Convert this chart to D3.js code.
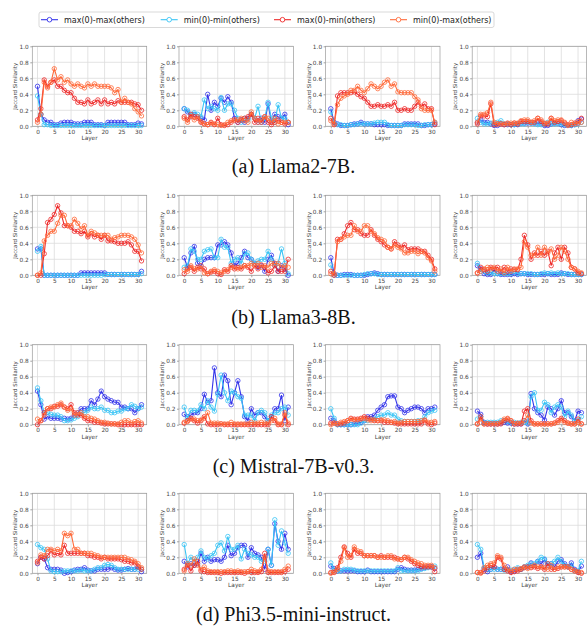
<!DOCTYPE html>
<html>
<head>
<meta charset="utf-8">
<script src="https://cdn.jsdelivr.net/npm/d3@7"></script>
<style>
  body { margin: 0; background: #fff; }
  svg text { font-family: "DejaVu Sans", sans-serif; }
  .caption { font-family: "Liberation Serif", "Times New Roman", serif !important; }
</style>
</head>
<body>
<svg id="chart" width="587" height="631"></svg>
<script>
// series order in every panel: max(0)-max(others), min(0)-min(others), max(0)-min(others), min(0)-max(others)
const seriesNames = ["max(0)-max(others)", "min(0)-min(others)", "max(0)-min(others)", "min(0)-max(others)"];
const seriesColors = ["#3434ea", "#38c4f5", "#ee2a2a", "#ff6a3a"];
const captions = ["(a) Llama2-7B.", "(b) Llama3-8B.", "(c) Mistral-7B-v0.3.", "(d) Phi3.5-mini-instruct."];
const layers = d3.range(32);
const xTicks = [0, 5, 10, 15, 20, 25, 30];
const yTicks = [0, 0.2, 0.4, 0.6, 0.8, 1.0];

// (a) Llama2-7B
const llama2_1 = [
  [0.5,0.15,0.08,0.05,0.05,0.02,0.02,0.04,0.05,0.05,0.05,0.03,0.03,0.03,0.05,0.05,0.05,0.02,0.02,0.02,0.01,0.05,0.05,0.05,0.05,0.05,0.05,0.02,0.02,0.02,0.04,0.03],
  [0.38,0.15,0.02,0.02,0.01,0.01,0.01,0.01,0.01,0.01,0.01,0.01,0.01,0.01,0.01,0.01,0.01,0.01,0.01,0.01,0.01,0.01,0.01,0.01,0.01,0.01,0.01,0.01,0.01,0.01,0.01,0.01],
  [0.08,0.22,0.58,0.5,0.55,0.58,0.5,0.5,0.45,0.42,0.42,0.35,0.3,0.3,0.28,0.33,0.28,0.3,0.33,0.28,0.33,0.28,0.3,0.28,0.32,0.3,0.3,0.3,0.3,0.28,0.27,0.2],
  [0.05,0.15,0.55,0.48,0.55,0.72,0.58,0.62,0.55,0.58,0.53,0.5,0.53,0.5,0.48,0.53,0.5,0.53,0.5,0.5,0.5,0.5,0.48,0.42,0.46,0.3,0.35,0.3,0.28,0.22,0.18,0.13]
];
const llama2_2 = [
  [0.22,0.18,0.12,0.15,0.12,0.1,0.08,0.4,0.2,0.3,0.25,0.35,0.3,0.37,0.3,0.1,0.05,0.08,0.05,0.1,0.15,0.1,0.05,0.1,0.05,0.28,0.05,0.15,0.12,0.1,0.15,0.02],
  [0.22,0.2,0.15,0.17,0.15,0.12,0.33,0.22,0.25,0.22,0.2,0.36,0.2,0.28,0.28,0.2,0.1,0.05,0.1,0.08,0.15,0.1,0.25,0.05,0.1,0.3,0.1,0.05,0.27,0.1,0.1,0.05],
  [0.12,0.08,0.15,0.12,0.1,0.05,0.03,0.02,0.05,0.02,0.1,0.02,0.01,0.02,0.05,0.08,0.05,0.08,0.1,0.12,0.15,0.05,0.1,0.05,0.12,0.05,0.02,0.05,0.08,0.05,0.03,0.05],
  [0.1,0.05,0.12,0.08,0.12,0.06,0.03,0.02,0.04,0.03,0.02,0.01,0.02,0.05,0.07,0.08,0.08,0.1,0.07,0.05,0.18,0.1,0.05,0.08,0.12,0.1,0.05,0.1,0.03,0.05,0.05,0.05]
];
const llama2_3 = [
  [0.22,0.05,0.03,0.01,0.01,0.01,0.02,0.03,0.03,0.05,0.03,0.03,0.03,0.02,0.02,0.02,0.02,0.01,0.01,0.01,0.01,0.01,0.03,0.03,0.03,0.03,0.03,0.01,0.01,0.02,0.02,0.03],
  [0.18,0.04,0.02,0.02,0.01,0.01,0.02,0.02,0.03,0.03,0.03,0.03,0.03,0.04,0.05,0.05,0.05,0.02,0.01,0.01,0.01,0.01,0.02,0.02,0.02,0.02,0.01,0.01,0.02,0.02,0.02,0.05],
  [0.1,0.02,0.38,0.42,0.42,0.42,0.42,0.43,0.4,0.37,0.35,0.3,0.25,0.25,0.27,0.25,0.25,0.27,0.25,0.3,0.2,0.2,0.22,0.2,0.2,0.25,0.3,0.25,0.28,0.22,0.22,0.02],
  [0.07,0.03,0.27,0.35,0.38,0.4,0.45,0.45,0.5,0.45,0.42,0.47,0.53,0.5,0.47,0.5,0.55,0.58,0.5,0.53,0.43,0.42,0.42,0.42,0.42,0.37,0.33,0.22,0.2,0.2,0.2,0.05]
];
const llama2_4 = [
  [0.05,0.08,0.05,0.05,0.03,0.01,0.01,0.03,0.02,0.02,0.02,0.02,0.02,0.04,0.04,0.04,0.04,0.04,0.04,0.04,0.01,0.01,0.03,0.04,0.04,0.02,0.01,0.01,0.01,0.02,0.07,0.09],
  [0.1,0.05,0.03,0.03,0.04,0.03,0.05,0.07,0.03,0.03,0.02,0.02,0.03,0.03,0.03,0.05,0.04,0.03,0.02,0.02,0.03,0.05,0.03,0.03,0.03,0.03,0.02,0.01,0.01,0.02,0.03,0.05],
  [0.03,0.13,0.13,0.12,0.28,0.02,0.03,0.03,0.02,0.04,0.02,0.04,0.03,0.06,0.06,0.06,0.05,0.05,0.1,0.06,0.03,0.03,0.1,0.05,0.06,0.07,0.04,0.02,0.02,0.04,0.04,0.1],
  [0.05,0.15,0.15,0.17,0.3,0.05,0.03,0.03,0.03,0.03,0.04,0.04,0.04,0.07,0.08,0.08,0.05,0.07,0.1,0.08,0.04,0.04,0.1,0.07,0.08,0.08,0.05,0.01,0.05,0.03,0.06,0.05]
];

// (b) Llama3-8B
const llama3_1 = [
  [0.33,0.33,0,0,0,0,0,0,0,0,0,0,0,0.03,0.03,0.03,0.03,0.03,0.03,0.03,0.03,0.01,0.01,0.01,0.01,0.01,0.01,0.01,0.01,0.01,0.01,0.05],
  [0.3,0.36,0,0,0,0,0,0,0,0,0,0,0,0,0,0,0,0,0,0,0.01,0.01,0.01,0.01,0.01,0.01,0.01,0.01,0.01,0.01,0.01,0.02],
  [0,0,0.27,0.66,0.7,0.76,0.87,0.78,0.62,0.62,0.6,0.55,0.55,0.52,0.55,0.48,0.52,0.48,0.5,0.45,0.5,0.43,0.43,0.42,0.4,0.4,0.4,0.42,0.38,0.3,0.3,0.18],
  [0,0.03,0.43,0.5,0.55,0.55,0.65,0.75,0.75,0.62,0.62,0.7,0.65,0.58,0.62,0.5,0.55,0.53,0.5,0.5,0.5,0.5,0.45,0.47,0.48,0.5,0.5,0.5,0.48,0.45,0.38,0.28]
];
const llama3_2 = [
  [0.22,0.1,0.28,0.36,0.15,0.12,0.2,0.22,0.22,0.22,0.38,0.38,0.42,0.38,0.28,0.12,0.15,0.22,0.3,0.22,0.2,0.15,0.1,0.12,0.05,0.2,0.25,0.15,0.05,0.12,0.08,0],
  [0.1,0.12,0.33,0.3,0.2,0.2,0.3,0.32,0.33,0.22,0.22,0.45,0.35,0.35,0.15,0.2,0.22,0.15,0.27,0.28,0.2,0.15,0.18,0.2,0.2,0.3,0.2,0.12,0.15,0.33,0.15,0.02],
  [0.02,0.08,0.1,0.05,0.1,0.08,0.08,0.02,0.04,0.05,0.02,0.01,0.07,0.05,0.12,0.08,0.1,0.08,0.12,0.1,0.05,0.12,0.08,0.13,0.1,0.03,0.05,0.12,0.05,0.05,0.05,0.2],
  [0.07,0.05,0.12,0.08,0.08,0.12,0.03,0.02,0.05,0.07,0.05,0.03,0.05,0.07,0.1,0.1,0.08,0.1,0.12,0.12,0.15,0.12,0.15,0.1,0.12,0.1,0.15,0.15,0.15,0.1,0.12,0.1]
];
const llama3_3 = [
  [0.22,0.02,0,0,0.01,0.01,0.01,0,0,0,0,0.01,0.02,0.03,0.02,0.01,0.01,0.01,0.01,0.01,0.01,0.01,0.01,0.01,0.01,0.01,0.01,0.01,0.01,0.01,0.01,0.01],
  [0.13,0,0,0,0,0,0,0,0,0,0.01,0.02,0.02,0.02,0.01,0.01,0.01,0.01,0.01,0.01,0.01,0.01,0.01,0.01,0.01,0.01,0.01,0.01,0.01,0.01,0.01,0.01],
  [0.05,0,0.45,0.45,0.52,0.62,0.66,0.57,0.57,0.52,0.5,0.5,0.57,0.5,0.45,0.42,0.38,0.35,0.33,0.42,0.38,0.35,0.38,0.32,0.33,0.33,0.33,0.3,0.3,0.25,0.2,0.08],
  [0.02,0.02,0.42,0.45,0.48,0.5,0.5,0.62,0.55,0.55,0.62,0.62,0.55,0.52,0.47,0.45,0.43,0.35,0.33,0.38,0.35,0.33,0.28,0.28,0.3,0.3,0.27,0.3,0.28,0.22,0.18,0.05]
];
const llama3_4 = [
  [0.12,0.08,0.02,0.01,0.01,0.07,0.02,0.01,0.01,0.01,0.01,0.02,0.01,0.02,0.02,0.01,0.01,0.01,0.01,0.01,0.01,0.02,0.01,0.01,0.01,0.03,0.02,0.01,0.01,0.01,0.01,0.01],
  [0.15,0.05,0.05,0.03,0.03,0.02,0.02,0.02,0.02,0.02,0.02,0.05,0.02,0.02,0.02,0.02,0.02,0.01,0.01,0.02,0.03,0.02,0.03,0.02,0.03,0.02,0.02,0.02,0.01,0.01,0.01,0.01],
  [0.03,0.1,0.07,0.05,0.1,0.08,0.1,0.05,0.1,0.05,0.08,0.07,0.07,0.2,0.5,0.38,0.2,0.28,0.25,0.3,0.25,0.3,0.12,0.28,0.35,0.2,0.35,0.28,0.1,0.08,0.03,0.02],
  [0.03,0.05,0.08,0.1,0.08,0.1,0.05,0.08,0.03,0.1,0.05,0.08,0.08,0.1,0.42,0.35,0.25,0.25,0.35,0.25,0.35,0.28,0.33,0.2,0.25,0.35,0.3,0.2,0.1,0.08,0.05,0.03]
];

// (c) Mistral-7B-v0.3
const mistral_1 = [
  [0.42,0.25,0.07,0.1,0.08,0.08,0.08,0.07,0.08,0.07,0.08,0.12,0.15,0.2,0.2,0.2,0.3,0.25,0.32,0.42,0.35,0.32,0.3,0.28,0.28,0.22,0.22,0.2,0.2,0.15,0.2,0.25],
  [0.46,0.3,0.15,0.15,0.13,0.12,0.12,0.1,0.05,0.05,0.06,0.08,0.1,0.15,0.15,0.18,0.22,0.2,0.2,0.22,0.18,0.18,0.15,0.15,0.17,0.17,0.2,0.2,0.25,0.23,0.2,0.22],
  [0,0.05,0.15,0.2,0.2,0.23,0.23,0.25,0.22,0.2,0.25,0.15,0.12,0.12,0.08,0.05,0.05,0.03,0.03,0.02,0.01,0.01,0.01,0.01,0,0,0,0,0,0,0,0],
  [0.07,0.05,0.12,0.2,0.22,0.22,0.25,0.27,0.22,0.18,0.2,0.12,0.15,0.15,0.1,0.1,0.08,0.07,0.05,0.03,0.03,0.02,0.01,0.01,0.01,0.03,0.05,0.05,0.02,0.04,0.05,0.02]
];
const mistral_2 = [
  [0.13,0.1,0.12,0.15,0.15,0.2,0.38,0.28,0.3,0.71,0.4,0.35,0.62,0.55,0.25,0.4,0.55,0.35,0.1,0.05,0.2,0.12,0.15,0.15,0.1,0.05,0.1,0.2,0.2,0.37,0.05,0.22],
  [0.22,0.08,0.18,0.18,0.17,0.25,0.2,0.3,0.22,0.17,0.38,0.62,0.4,0.3,0.42,0.4,0.35,0.33,0.12,0.12,0.12,0.05,0.15,0.18,0.15,0.05,0.12,0.15,0.15,0.2,0.22,0.12],
  [0.02,0.05,0.08,0.05,0.02,0.05,0.1,0.01,0,0,0,0.01,0,0,0,0,0,0,0,0,0,0,0,0,0,0,0.1,0.05,0,0,0.12,0],
  [0.03,0.04,0.07,0.07,0.05,0.06,0.08,0.15,0.02,0.02,0.02,0.01,0.01,0.01,0.03,0.01,0.01,0.01,0.01,0.01,0.03,0.02,0.02,0.03,0.02,0.02,0.05,0.08,0.01,0.01,0.15,0.02]
];
const mistral_3 = [
  [0.08,0.05,0,0,0,0,0,0.01,0.02,0.03,0.05,0.1,0.1,0.12,0.18,0.22,0.25,0.35,0.36,0.36,0.22,0.2,0.15,0.18,0.2,0.22,0.22,0.2,0.15,0.2,0.2,0.22],
  [0.2,0.08,0,0,0,0,0,0,0,0.02,0.05,0.05,0.07,0.07,0.1,0.12,0.12,0.15,0.12,0.12,0.07,0.05,0.04,0.04,0.04,0.04,0.05,0.05,0.1,0.15,0.17,0.18],
  [0.02,0.02,0.01,0.01,0.02,0.05,0.08,0.07,0.07,0.08,0.1,0.08,0.07,0.05,0.05,0.05,0.03,0.03,0.03,0.02,0.01,0.01,0.01,0.01,0.01,0.01,0.01,0.01,0.05,0.01,0,0.02],
  [0,0.02,0.01,0.03,0.04,0.05,0.07,0.06,0.06,0.07,0.08,0.06,0.05,0.06,0.05,0.06,0.06,0.05,0.03,0.04,0.02,0.03,0.04,0.04,0.04,0.04,0.04,0.05,0.06,0.03,0.03,0.04]
];
const mistral_4 = [
  [0.17,0.13,0.03,0.01,0.01,0.01,0.01,0.02,0.03,0.02,0.02,0.01,0.01,0.01,0.05,0.01,0.39,0.2,0.15,0.12,0.06,0.22,0.2,0.12,0.2,0.3,0.15,0.15,0.1,0.05,0.17,0.15],
  [0.07,0.1,0.02,0.03,0.03,0.03,0.03,0.05,0.05,0.04,0.03,0.03,0.02,0.03,0.03,0.02,0.35,0.4,0.18,0.18,0.28,0.25,0.15,0.22,0.25,0.22,0.1,0.17,0.12,0.05,0.05,0.1],
  [0.01,0.1,0.01,0.01,0.01,0.01,0.01,0.01,0.05,0.07,0.05,0.01,0.01,0.01,0.17,0.2,0.05,0.01,0.01,0.01,0.01,0.01,0.01,0.02,0.05,0.08,0.05,0.02,0.01,0.01,0.07,0.01],
  [0.01,0.07,0.01,0.01,0.01,0.01,0.01,0.03,0.07,0.08,0.05,0.01,0.02,0.02,0.05,0.12,0.02,0.01,0.01,0.01,0.01,0.01,0.01,0.02,0.03,0.06,0.03,0.02,0.01,0.01,0.03,0.01]
];

// (d) Phi3.5-mini-instruct
const phi35_1 = [
  [0.12,0.2,0.18,0.07,0.05,0.05,0.05,0.04,0,0.01,0.02,0.04,0.05,0.05,0.07,0.04,0.03,0.03,0.05,0.05,0.05,0.05,0.07,0.05,0.04,0.04,0.05,0.06,0.05,0.05,0.08,0.02],
  [0.36,0.32,0.3,0.18,0.03,0.02,0.02,0.02,0.03,0.03,0.03,0.03,0.03,0.04,0.03,0.03,0.03,0.05,0.07,0.07,0.1,0.11,0.1,0.07,0.05,0.05,0.05,0.05,0.05,0.05,0.05,0.05],
  [0.15,0.2,0.18,0.22,0.28,0.23,0.25,0.23,0.35,0.25,0.25,0.25,0.25,0.25,0.25,0.22,0.22,0.2,0.2,0.18,0.2,0.18,0.18,0.18,0.18,0.17,0.15,0.15,0.13,0.13,0.08,0.05],
  [0.13,0.23,0.22,0.3,0.3,0.28,0.3,0.28,0.5,0.47,0.5,0.3,0.3,0.25,0.25,0.25,0.25,0.23,0.22,0.2,0.2,0.2,0.2,0.2,0.2,0.2,0.2,0.18,0.17,0.15,0.12,0.07]
];
const phi35_2 = [
  [0.15,0.08,0.12,0.1,0.12,0.25,0.15,0.2,0.15,0.17,0.17,0.15,0.2,0.35,0.22,0.25,0.32,0.35,0.35,0.2,0.32,0.25,0.23,0.2,0.05,0.3,0.1,0.62,0.4,0.3,0.5,0.3],
  [0.36,0.12,0.2,0.15,0.2,0.28,0.2,0.18,0.22,0.25,0.35,0.38,0.28,0.46,0.3,0.3,0.35,0.18,0.3,0.25,0.23,0.2,0.2,0.15,0.15,0.3,0.1,0.67,0.35,0.53,0.38,0.25],
  [0.05,0.1,0.03,0.1,0.15,0.03,0.02,0.01,0.01,0.01,0.01,0,0.01,0.01,0.01,0.01,0.01,0.01,0,0.02,0.01,0.01,0.01,0.02,0.25,0.01,0.01,0.01,0.01,0.01,0.02,0.05],
  [0.03,0.12,0.1,0.18,0.1,0.05,0.08,0.03,0.02,0.02,0.02,0.02,0.02,0.03,0.03,0.02,0.03,0.02,0.02,0.02,0.05,0.03,0.02,0.05,0.2,0.03,0.02,0.02,0.02,0.02,0.05,0.09]
];
const phi35_3 = [
  [0.09,0.06,0.03,0.03,0.03,0.03,0.03,0.03,0.02,0.02,0.02,0.04,0.02,0.02,0.02,0.02,0.02,0.02,0.02,0.02,0.05,0.07,0.05,0.04,0.04,0.04,0.05,0.06,0.07,0.08,0.08,0.06],
  [0.13,0.05,0.03,0.03,0.05,0.05,0.05,0.04,0.03,0.03,0.03,0.03,0.03,0.03,0.03,0.03,0.03,0.03,0.03,0.03,0.07,0.03,0.03,0.03,0.03,0.03,0.03,0.05,0.06,0.07,0.08,0.09],
  [0.01,0.01,0.07,0.2,0.33,0.25,0.2,0.3,0.25,0.25,0.22,0.22,0.22,0.22,0.2,0.22,0.2,0.2,0.2,0.2,0.18,0.17,0.2,0.18,0.15,0.12,0.1,0.08,0.08,0.08,0.08,0.02],
  [0,0.02,0.05,0.15,0.32,0.2,0.22,0.33,0.28,0.27,0.22,0.22,0.22,0.22,0.2,0.2,0.2,0.22,0.22,0.18,0.18,0.17,0.2,0.2,0.17,0.15,0.13,0.12,0.1,0.1,0.1,0.07]
];
const phi35_4 = [
  [0.2,0.25,0.05,0.02,0.05,0.08,0.05,0.05,0.05,0.08,0.02,0.03,0.05,0.05,0.08,0.08,0.13,0.1,0.15,0.12,0.17,0.1,0.12,0.08,0.15,0.17,0.12,0.08,0.13,0.05,0.02,0.09],
  [0.36,0.3,0.07,0.05,0.05,0.05,0.05,0.05,0.04,0.04,0.04,0.05,0.07,0.05,0.08,0.1,0.12,0.12,0.15,0.2,0.18,0.12,0.12,0.15,0.2,0.15,0.1,0.08,0.1,0.03,0.03,0.15],
  [0.01,0.01,0.03,0.07,0.1,0.08,0.2,0.18,0.05,0.03,0.01,0.02,0.03,0.05,0.07,0.08,0.07,0.08,0.06,0.08,0.05,0.12,0.05,0.05,0.06,0.08,0.08,0.08,0.05,0.03,0.01,0],
  [0.01,0,0.07,0.1,0.12,0.13,0.22,0.2,0.1,0.05,0.03,0.05,0.05,0.06,0.08,0.06,0.08,0.1,0.08,0.08,0.07,0.05,0.1,0.05,0.08,0.08,0.08,0.08,0.05,0.03,0.02,0.01]
];

const rows = [
  [llama2_1, llama2_2, llama2_3, llama2_4],
  [llama3_1, llama3_2, llama3_3, llama3_4],
  [mistral_1, mistral_2, mistral_3, mistral_4],
  [phi35_1, phi35_2, phi35_3, phi35_4]
];

const svg = d3.select("#chart");

// layout
const panelW = 114.4, panelH = 80;
const colX = [32.3, 179, 325.6, 472.2];
const rowY = [46.3, 195.3, 344.7, 493.3];
const captionY = [173, 324, 473, 621];

const x = d3.scaleLinear().domain([-1.55, 32.55]).range([0, panelW]);
const y = d3.scaleLinear().domain([0, 1]).range([panelH, 0]);

const line = d3.line()
  .x((d, i) => x(layers[i]))
  .y(d => y(d));

rows.forEach((row, r) => {
  row.forEach((panel, c) => {
    const g = svg.append("g").attr("transform", `translate(${colX[c]},${rowY[r]})`);

    // grid
    g.append("g").selectAll("line").data(xTicks).join("line")
      .attr("x1", d => x(d)).attr("x2", d => x(d))
      .attr("y1", 0).attr("y2", panelH)
      .attr("stroke", "#dcdcdc").attr("stroke-width", 0.8);
    g.append("g").selectAll("line").data(yTicks).join("line")
      .attr("x1", 0).attr("x2", panelW)
      .attr("y1", d => y(d)).attr("y2", d => y(d))
      .attr("stroke", "#dcdcdc").attr("stroke-width", 0.8);

    // axes
    const xAxis = g.append("g").attr("transform", `translate(0,${panelH})`)
      .call(d3.axisBottom(x).tickValues(xTicks).tickSize(2).tickPadding(1.5));
    const yAxis = g.append("g")
      .call(d3.axisLeft(y).tickValues(yTicks).tickFormat(d3.format(".1f")).tickSize(2).tickPadding(1.5));
    [xAxis, yAxis].forEach(a => {
      a.selectAll("path").remove();
      a.selectAll("line").attr("stroke", "#666").attr("stroke-width", 0.6);
      a.selectAll("text").attr("font-size", 5.8).attr("fill", "#444")
        .attr("font-family", "DejaVu Sans, sans-serif");
    });

    // frame
    g.append("rect").attr("width", panelW).attr("height", panelH)
      .attr("fill", "none").attr("stroke", "#9a9a9a").attr("stroke-width", 0.7);

    // labels
    g.append("text").attr("x", panelW / 2).attr("y", panelH + 14)
      .attr("text-anchor", "middle").attr("font-size", 5.8).attr("fill", "#444").text("Layer");
    g.append("text").attr("transform", `translate(-15,${panelH / 2}) rotate(-90)`)
      .attr("text-anchor", "middle").attr("font-size", 5.4).attr("fill", "#444").text("Jaccard Similarity");

    // series
    panel.forEach((vals, s) => {
      const sg = g.append("g");
      sg.append("path").datum(vals).attr("d", line)
        .attr("fill", "none").attr("stroke", seriesColors[s]).attr("stroke-width", 1.1);
      sg.selectAll("circle").data(vals).join("circle")
        .attr("cx", (d, i) => x(layers[i])).attr("cy", d => y(d)).attr("r", 2.2)
        .attr("fill", "none").attr("stroke", seriesColors[s]).attr("stroke-width", 0.8);
    });
  });

  svg.append("text").attr("class", "caption")
    .attr("x", 293.5).attr("y", captionY[r])
    .attr("text-anchor", "middle").attr("font-size", 20).attr("fill", "#111")
    .text(captions[r]);
});

// legend
const legend = svg.append("g");
legend.append("rect").attr("x", 39).attr("y", 12).attr("width", 455).attr("height", 15.5)
  .attr("rx", 2).attr("fill", "#fff").attr("stroke", "#cfcfcf").attr("stroke-width", 0.8);
const legendX = [41, 160.7, 274, 390];
seriesNames.forEach((name, s) => {
  const lg = legend.append("g").attr("transform", `translate(${legendX[s]},19.7)`);
  lg.append("line").attr("x1", 0).attr("x2", 17).attr("stroke", seriesColors[s]).attr("stroke-width", 1.1);
  lg.append("circle").attr("cx", 8.5).attr("r", 2.3).attr("fill", "#fff")
    .attr("stroke", seriesColors[s]).attr("stroke-width", 0.9);
  lg.append("text").attr("x", 23).attr("y", 2.9).attr("font-size", 8).attr("fill", "#222").text(name);
});
</script>
</body>
</html>
